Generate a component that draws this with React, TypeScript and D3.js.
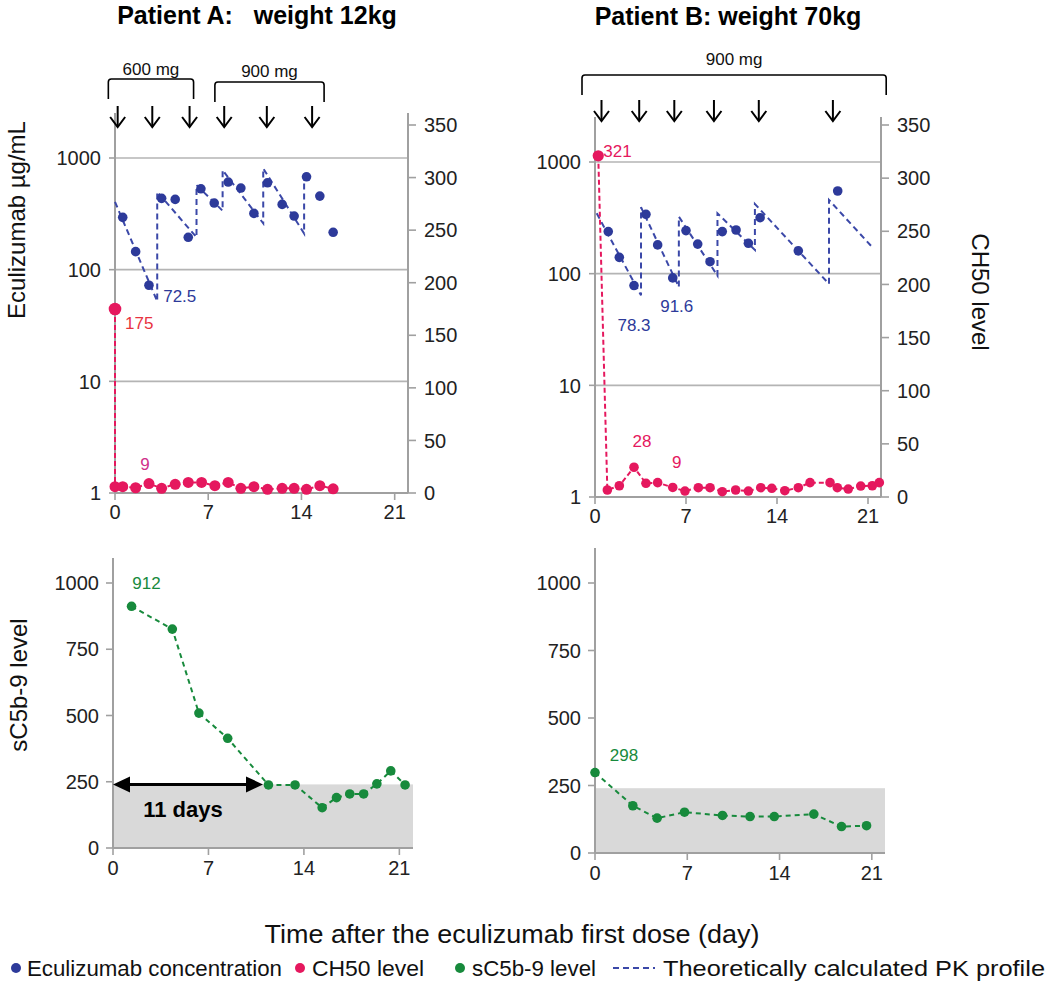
import React from 'react';
import * as d3 from 'd3';

// ---- data ----
// Patient A (12 kg)
const ecuDaysA = [0.58, 1.55, 2.55, 3.5, 4.52, 5.5, 6.45, 7.45, 8.5, 9.45, 10.43, 11.45, 12.55, 13.45, 14.38, 15.38, 16.38];
const ecuValsA = [294, 145, 72.5, 435, 426, 195, 530, 395, 609, 538, 319, 600, 384, 302, 679, 456, 216];
const pkDaysA = [0, 3.17, 3.17, 6.12, 6.12, 8.08, 8.08, 11.13, 11.13, 14.2, 14.2];
const pkValsA = [405, 52, 498, 195, 572, 337, 779, 260, 807, 211, 779];
const ch50DaysA = [0, 0, 0.58, 1.55, 2.55, 3.5, 4.52, 5.5, 6.5, 7.5, 8.5, 9.45, 10.43, 11.45, 12.55, 13.45, 14.38, 15.38, 16.38];
const ch50ValsA = [175, 6, 6, 5, 9, 4.5, 8.3, 10, 10, 7, 10, 4.5, 6, 3.5, 4.5, 4.5, 3.5, 7, 4];
const sc5DaysA = [1.36, 4.35, 6.3, 8.41, 11.4, 13.35, 15.34, 16.39, 17.36, 18.38, 19.35, 20.37, 21.42];
const sc5ValsA = [912, 826, 509, 414, 238, 238, 152, 190, 204, 204, 242, 291, 238];
const doseDaysA = [0.2, 2.8, 5.6, 8.2, 11.4, 14.8];

// Patient B (70 kg)
const ecuDaysB = [1.02, 1.87, 3.0, 3.92, 4.82, 5.98, 7.0, 7.9, 8.85, 9.79, 10.85, 11.8, 12.7, 15.64, 18.67];
const ecuValsB = [238, 140, 78.3, 340, 181, 91.6, 243, 184, 128, 238, 246, 187, 317, 160, 550];
const pkDaysB = [0.13, 3.54, 3.54, 6.45, 6.45, 9.42, 9.42, 12.3, 12.3, 18.0, 18.0, 21.4];
const pkValsB = [347, 64, 393, 76, 324, 96, 347, 163, 421, 81, 457, 169];
const ch50DaysB = [0.25, 0.95, 1.87, 3.0, 3.92, 4.82, 5.98, 6.92, 7.95, 8.85, 9.79, 10.82, 11.8, 12.75, 13.6, 14.6, 15.64, 16.54, 18.08, 18.64, 19.48, 20.44, 21.33, 21.87];
const ch50ValsB = [321, 6.6, 10.6, 28, 12.9, 13.5, 9, 5.6, 8.75, 8.75, 5, 6.6, 5.6, 8.75, 8.2, 5.9, 8.75, 13.5, 13.5, 8.75, 7.5, 10.3, 10.6, 13.5];
const sc5DaysB = [0, 2.87, 4.71, 6.79, 9.67, 11.76, 13.6, 16.6, 18.7, 20.6];
const sc5ValsB = [298, 175, 129, 151, 139, 135, 135, 144, 98, 101];
const doseDaysB = [0.5, 3.4, 6.1, 9.15, 12.6, 18.3];

const dayTicks = [0, 7, 14, 21];
const logTicks = [1, 10, 100, 1000];
const ch50Ticks = [0, 50, 100, 150, 200, 250, 300, 350];
const sc5Ticks = [0, 250, 500, 750, 1000];
const normalUpper = 240;

const BLUE = '#2d3a9a';
const PK_BLUE = '#3b48a8';
const PINK = '#e5185e';
const GREEN = '#178a3c';
const GRID = '#b4b4b4';
const AXIS = '#a0a0a0';
const FONT = '"Liberation Sans", Arial, Helvetica, sans-serif';

const zip = (a: number[], b: number[]) => a.map((d, i) => [d, b[i]] as [number, number]);

type TopProps = {
  x: d3.ScaleLinear<number, number>;
  yl: d3.ScaleLogarithmic<number, number>;
  yr: d3.ScaleLinear<number, number>;
  top: number;
  ecu: [number, number][];
  pk: [number, number][];
  ch: [number, number][];
  chR: number;
  doses: number[];
  arrowTop: number;
};

const Arrow = ({ x, y0, y1 }: { x: number; y0: number; y1: number }) => (
  <g stroke="#000" strokeWidth={2} fill="none">
    <line x1={x} x2={x} y1={y0} y2={y1} />
    <polyline points={`${x - 7.5},${y1 - 10} ${x},${y1} ${x + 7.5},${y1 - 10}`} />
  </g>
);

const Bracket = ({ x0, x1, y, leg, label, ty }: { x0: number; x1: number; y: number; leg: number; label: string; ty: number }) => (
  <g>
    <path
      d={`M${x0},${y + leg} L${x0},${y + 3} Q${x0},${y} ${x0 + 3},${y} L${x1 - 3},${y} Q${x1},${y} ${x1},${y + 3} L${x1},${y + leg}`}
      fill="none" stroke="#000" strokeWidth={1.6}
    />
    <text x={(x0 + x1) / 2} y={ty} textAnchor="middle" fontSize={17} fill="#111">{label}</text>
  </g>
);

const TopPanel = ({ x, yl, yr, top, ecu, pk, ch, chR, doses, arrowTop }: TopProps) => {
  const [x0, x1] = x.range();
  const yb = yl(1);
  const lineL = d3.line<[number, number]>().x(d => x(d[0])).y(d => yl(d[1]));
  const lineR = d3.line<[number, number]>().x(d => x(d[0])).y(d => yr(d[1]));
  return (
    <g fontFamily={FONT}>
      {logTicks.slice(1).map(t => (
        <line key={t} x1={x0} x2={x1} y1={yl(t)} y2={yl(t)} stroke={GRID} strokeWidth={1.6} />
      ))}
      <line x1={x0} x2={x0} y1={top} y2={yb} stroke={AXIS} strokeWidth={2} />
      <line x1={x1} x2={x1} y1={top} y2={yb} stroke={AXIS} strokeWidth={2} />
      <line x1={x0} x2={x1} y1={yb} y2={yb} stroke={AXIS} strokeWidth={2} />
      {logTicks.map(t => (
        <g key={t}>
          <line x1={x0 - 6} x2={x0} y1={yl(t)} y2={yl(t)} stroke={AXIS} strokeWidth={1.6} />
          <text x={x0 - 14} y={yl(t)} dy="0.36em" textAnchor="end" fontSize={20} fill="#222">{t}</text>
        </g>
      ))}
      {ch50Ticks.map(t => (
        <g key={t}>
          <line x1={x1} x2={x1 + 8} y1={yr(t)} y2={yr(t)} stroke={AXIS} strokeWidth={1.6} />
          <text x={x1 + 16} y={yr(t)} dy="0.36em" textAnchor="start" fontSize={20} fill="#222">{t}</text>
        </g>
      ))}
      {dayTicks.map(t => (
        <g key={t}>
          <line x1={x(t)} x2={x(t)} y1={yb} y2={yb + 7} stroke={AXIS} strokeWidth={1.6} />
          <text x={x(t)} y={yb + 26} textAnchor="middle" fontSize={20} fill="#222">{t}</text>
        </g>
      ))}
      <path d={lineL(pk) || ''} fill="none" stroke={PK_BLUE} strokeWidth={2} strokeDasharray="6,4" />
      <path d={lineR(ch) || ''} fill="none" stroke={PINK} strokeWidth={2} strokeDasharray="5,3" />
      {ecu.map((d, i) => (
        <circle key={i} cx={x(d[0])} cy={yl(d[1])} r={4.8} fill={BLUE} />
      ))}
      {ch.map((d, i) => (
        <circle key={i} cx={x(d[0])} cy={yr(d[1])} r={i === 0 ? chR + 0.8 : chR} fill={PINK} />
      ))}
      {doses.map((d, i) => (
        <Arrow key={i} x={x(d)} y0={arrowTop} y1={arrowTop + 21} />
      ))}
    </g>
  );
};

type BotProps = {
  x: d3.ScaleLinear<number, number>;
  y: d3.ScaleLinear<number, number>;
  top: number;
  pts: [number, number][];
};

const BottomPanel = ({ x, y, top, pts }: BotProps) => {
  const [x0, x1] = x.range();
  const yb = y(0);
  const line = d3.line<[number, number]>().x(d => x(d[0])).y(d => y(d[1]));
  return (
    <g fontFamily={FONT}>
      <rect x={x0} y={y(normalUpper)} width={x1 - x0} height={yb - y(normalUpper)} fill="#d9d9d9" />
      <line x1={x0} x2={x0} y1={top} y2={yb} stroke={AXIS} strokeWidth={2} />
      <line x1={x0} x2={x1} y1={yb} y2={yb} stroke={AXIS} strokeWidth={2} />
      {sc5Ticks.map(t => (
        <g key={t}>
          <line x1={x0 - 7} x2={x0} y1={y(t)} y2={y(t)} stroke={AXIS} strokeWidth={1.6} />
          <text x={x0 - 14} y={y(t)} dy="0.36em" textAnchor="end" fontSize={20} fill="#222">{t}</text>
        </g>
      ))}
      {dayTicks.map(t => (
        <g key={t}>
          <line x1={x(t)} x2={x(t)} y1={yb} y2={yb + 7} stroke={AXIS} strokeWidth={1.6} />
          <text x={x(t)} y={yb + 27} textAnchor="middle" fontSize={20} fill="#222">{t}</text>
        </g>
      ))}
      <path d={line(pts) || ''} fill="none" stroke={GREEN} strokeWidth={2} strokeDasharray="5,4" />
      {pts.map((d, i) => (
        <circle key={i} cx={x(d[0])} cy={y(d[1])} r={4.8} fill={GREEN} />
      ))}
    </g>
  );
};

export default function App() {
  // scales for each of the four panels
  const xTA = d3.scaleLinear().domain([0, 22]).range([115, 408]);
  const ylA = d3.scaleLog().domain([1, 1000]).range([493, 158]);
  const yrA = d3.scaleLinear().domain([0, 350]).range([493, 125]);
  const xTB = d3.scaleLinear().domain([0, 22]).range([595, 881]);
  const ylB = d3.scaleLog().domain([1, 1000]).range([497, 162]);
  const yrB = d3.scaleLinear().domain([0, 350]).range([497, 125]);
  const xBA = d3.scaleLinear().domain([0, 22]).range([113, 413]);
  const yBA = d3.scaleLinear().domain([0, 1000]).range([848, 583]);
  const xBB = d3.scaleLinear().domain([0, 22]).range([595, 885]);
  const yBB = d3.scaleLinear().domain([0, 1000]).range([853, 583]);

  const ecuA = zip(ecuDaysA, ecuValsA);
  const ecuB = zip(ecuDaysB, ecuValsB);
  const chA = zip(ch50DaysA, ch50ValsA);
  const chB = zip(ch50DaysB, ch50ValsB);
  const scA = zip(sc5DaysA, sc5ValsA);
  const scB = zip(sc5DaysB, sc5ValsB);

  const arrowY = yBA(normalUpper);
  const arrowEnd = xBA(11);

  return (
    <svg width={1050} height={1001} style={{ position: 'absolute', left: 0, top: 0, background: '#fff' }} fontFamily={FONT}>
      <rect width={1050} height={1001} fill="#fff" />
      {/* titles */}
      <text x={257} y={24} textAnchor="middle" fontSize={25} fontWeight="bold" xmlSpace="preserve">Patient A:   weight 12kg</text>
      <text x={728} y={25} textAnchor="middle" fontSize={25} fontWeight="bold">Patient B: weight 70kg</text>

      {/* dosing brackets */}
      <Bracket x0={xTA(-0.5)} x1={xTA(5.9)} y={79} leg={20} label="600 mg" ty={75} />
      <Bracket x0={xTA(7.5)} x1={xTA(15.7)} y={82} leg={20} label="900 mg" ty={77} />
      <Bracket x0={xTB(-1)} x1={xTB(22.4)} y={75} leg={20} label="900 mg" ty={65} />

      <TopPanel x={xTA} yl={ylA} yr={yrA} top={113} ecu={ecuA} pk={zip(pkDaysA, pkValsA)} ch={chA} chR={5.5} doses={doseDaysA} arrowTop={106} />
      <TopPanel x={xTB} yl={ylB} yr={yrB} top={117} ecu={ecuB} pk={zip(pkDaysB, pkValsB)} ch={chB} chR={4.8} doses={doseDaysB} arrowTop={100} />
      <BottomPanel x={xBA} y={yBA} top={558} pts={scA} />
      <BottomPanel x={xBB} y={yBB} top={548} pts={scB} />

      {/* value annotations */}
      <g fontSize={17}>
        <text x={xTA(pkDaysA[1]) + 6} y={ylA(72.5) + 17} fill={BLUE}>72.5</text>
        <text x={xTA(0) + 10} y={yrA(175) + 20} fill="#e8333f">175</text>
        <text x={xTA(2.55) - 4} y={yrA(9) - 14} fill="#d0308a" textAnchor="middle">9</text>
        <text x={xTB(3.0)} y={ylB(78.3) + 45} fill={BLUE} textAnchor="middle">78.3</text>
        <text x={xTB(5.98) + 4} y={ylB(91.6) + 34} fill={BLUE} textAnchor="middle">91.6</text>
        <text x={xTB(0.25) + 5} y={yrB(321) + 1} fill={PINK}>321</text>
        <text x={xTB(3.0) + 8} y={yrB(28) - 20} fill={PINK} textAnchor="middle">28</text>
        <text x={xTB(5.98) + 4} y={yrB(9) - 19} fill={PINK} textAnchor="middle">9</text>
        <text x={xBA(1.36) + 15} y={yBA(912) - 17} fill={GREEN} textAnchor="middle">912</text>
        <text x={xBB(0) + 29} y={yBB(298) - 12} fill={GREEN} textAnchor="middle">298</text>
      </g>

      {/* 11 days arrow */}
      <g>
        <line x1={xBA(0) + 14} x2={arrowEnd - 14} y1={arrowY} y2={arrowY} stroke="#000" strokeWidth={3} />
        <polygon points={`${xBA(0)},${arrowY} ${xBA(0) + 17},${arrowY - 8} ${xBA(0) + 17},${arrowY + 8}`} fill="#000" />
        <polygon points={`${arrowEnd},${arrowY} ${arrowEnd - 17},${arrowY - 8} ${arrowEnd - 17},${arrowY + 8}`} fill="#000" />
        <text x={183} y={817} textAnchor="middle" fontSize={22} fontWeight="bold">11 days</text>
      </g>

      {/* axis titles */}
      <text transform="translate(25,220) rotate(-90)" textAnchor="middle" fontSize={24} fill="#111">Eculizumab µg/mL</text>
      <text transform="translate(972,292) rotate(90)" textAnchor="middle" fontSize={24} fill="#111">CH50 level</text>
      <text transform="translate(27,685) rotate(-90)" textAnchor="middle" fontSize={24} fill="#111">sC5b-9 level</text>
      <text x={512} y={943} textAnchor="middle" fontSize={25} fill="#111" textLength={495} lengthAdjust="spacingAndGlyphs">Time after the eculizumab first dose (day)</text>

      {/* legend */}
      <g fontSize={22} fill="#111">
        <circle cx={16} cy={968} r={5} fill={BLUE} />
        <text x={27} y={976} textLength={255} lengthAdjust="spacingAndGlyphs">Eculizumab concentration</text>
        <circle cx={300} cy={968} r={5} fill={PINK} />
        <text x={312} y={976} textLength={112} lengthAdjust="spacingAndGlyphs">CH50 level</text>
        <circle cx={460} cy={968} r={5} fill={GREEN} />
        <text x={472} y={976} textLength={124} lengthAdjust="spacingAndGlyphs">sC5b-9 level</text>
        <line x1={613} x2={655} y1={968} y2={968} stroke={PK_BLUE} strokeWidth={2} strokeDasharray="6,4" />
        <text x={663} y={976} textLength={382} lengthAdjust="spacingAndGlyphs">Theoretically calculated PK profile</text>
      </g>
    </svg>
  );
}
